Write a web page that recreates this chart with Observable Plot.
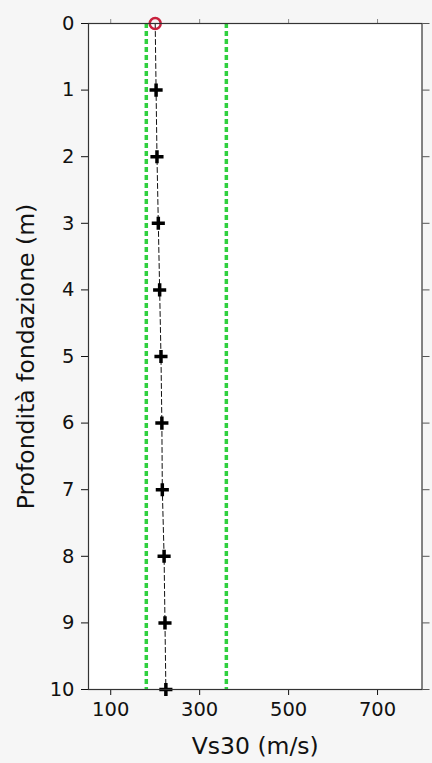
<!DOCTYPE html>
<html>
<head>
<meta charset="utf-8">
<script src="https://cdn.jsdelivr.net/npm/d3@7"></script>
<script src="https://cdn.jsdelivr.net/npm/@observablehq/plot@0.6"></script>
<style>
  html, body { margin: 0; padding: 0; background: #f6f6f6; }
  #chart svg { display: block; }
</style>
</head>
<body>
<div id="chart"></div>
<script>
// Depth of foundation (m) and corresponding Vs30 (m/s)
const depths = [0, 1, 2, 3, 4, 5, 6, 7, 8, 9, 10];
const vs30 = [200, 202, 204, 207, 210, 213, 215, 216, 220, 222, 224];
// Category limits (green dashed lines)
const limits = [180, 360];
// Axis ticks
const xTicks = [100, 300, 500, 700];
const yTicks = [0, 1, 2, 3, 4, 5, 6, 7, 8, 9, 10];

const data = depths.map((d, i) => ({depth: d, vs: vs30[i]}));
const surface = data.filter(d => d.depth === 0);
const deeper = data.filter(d => d.depth > 0);

const font = "DejaVu Sans, sans-serif";

const chart = Plot.plot({
  width: 432,
  height: 763,
  marginTop: 23,
  marginBottom: 74,
  marginLeft: 88,
  marginRight: 10.5,
  style: {fontFamily: font, background: "transparent", color: "#111"},
  x: {domain: [50, 800]},
  y: {domain: [0, 10], reverse: true},
  marks: [
    Plot.frame({fill: "white", stroke: "none"}),
    Plot.ruleX(limits, {stroke: "#2fd03e", strokeWidth: 3.5, strokeDasharray: "5,3"}),
    Plot.line(data, {x: "vs", y: "depth", stroke: "#111", strokeWidth: 1, strokeDasharray: "5,3"}),
    Plot.dot(deeper, {x: "vs", y: "depth", symbol: "plus", r: 4.3, stroke: "#000", strokeWidth: 3.5}),
    Plot.dot(surface, {x: "vs", y: "depth", symbol: "circle", r: 5.5, stroke: "#c8203c", strokeWidth: 2.5, fill: "none"}),
    Plot.axisX({anchor: "bottom", ticks: xTicks, tickSize: 6, tickPadding: 7,
      label: "Vs30 (m/s)", labelAnchor: "center", labelArrow: "none", labelOffset: 64}),
    Plot.axisX({anchor: "top", ticks: xTicks, tickSize: 5, tickFormat: () => "", label: null, stroke: "#888"}),
    Plot.axisY({anchor: "left", ticks: yTicks, tickSize: 7, tickPadding: 7,
      label: "Profondità fondazione (m)", labelAnchor: "center", labelArrow: "none", labelOffset: 71}),
    Plot.axisY({anchor: "right", ticks: yTicks, tickSize: 7, tickFormat: () => "", label: null, stroke: "#555"}),
    Plot.frame({stroke: "#333", strokeWidth: 1.2})
  ]
});

const labelGroups = new Set(chart.querySelectorAll("[aria-label='x-axis label'], [aria-label='y-axis label']"));
chart.querySelectorAll("text").forEach(t => {
  const isLabel = [...labelGroups].some(g => g.contains(t));
  t.style.fontSize = isLabel ? "23.5px" : "19.5px";
});
document.getElementById("chart").appendChild(chart);
</script>
</body>
</html>
